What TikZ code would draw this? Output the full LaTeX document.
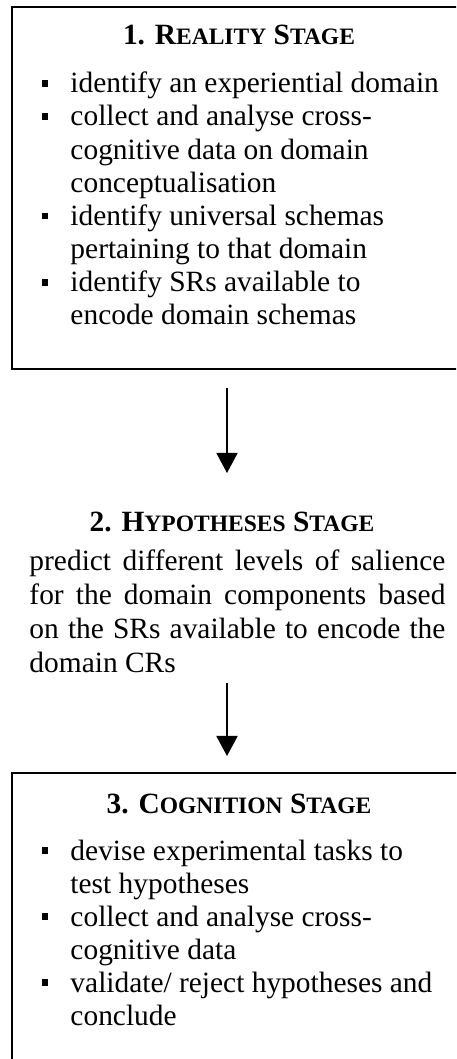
\documentclass[tikz,border=0pt]{standalone}
\usepackage{fontspec}
\setmainfont{Liberation Serif}
\usetikzlibrary{arrows.meta}
\newcommand\smcap[1]{{\fontsize{9.6pt}{11pt}\selectfont #1}}
\tikzset{
  stagebox/.style={draw, line width=0.8pt, inner sep=0pt},
  txtline/.style={anchor=base west, inner sep=0pt, font=\fontsize{12pt}{14pt}\selectfont},
  heading/.style={anchor=base, inner sep=0pt, font=\fontsize{12pt}{14pt}\selectfont\bfseries},
  bulletsq/.style={fill, inner sep=0pt, minimum size=2.6pt},
  flow/.style={-{Triangle[length=8.2pt,width=8.6pt]}, line width=0.8pt}
}
\begin{document}
\begin{tikzpicture}[x=0.408pt, y=-0.408pt]
  \useasboundingbox (0,0) rectangle (456,1059);
  \clip (0,0) rectangle (456,1059);
  % stage 1 box
  \node[stagebox, minimum width=185.2pt, minimum height=147.7pt] (reality) at (239,188) {};
  \node[heading] (realtitle) at (239,45) {1. R\smcap{EALITY} S\smcap{TAGE}};
  \node[bulletsq] (rb1) at (45,83.5) {};
  \node[txtline] (r1) at (70,93) {identify an experiential domain};
  \node[bulletsq] (rb2) at (45,116.5) {};
  \node[txtline] (r2) at (70,126) {collect and analyse cross-};
  \node[txtline] (r3) at (70,159.5) {cognitive data on domain};
  \node[txtline] (r4) at (70,192.5) {conceptualisation};
  \node[bulletsq] (rb3) at (45,216) {};
  \node[txtline] (r5) at (70,225.5) {identify universal schemas};
  \node[txtline] (r6) at (70,259) {pertaining to that domain};
  \node[bulletsq] (rb4) at (45,282.5) {};
  \node[txtline] (r7) at (70,292) {identify SRs available to};
  \node[txtline] (r8) at (70,325) {encode domain schemas};
  % arrow to stage 2
  \coordinate (a1top) at (227,388);
  \coordinate (a1tip) at (227,473);
  \draw[flow] (a1top) -- (a1tip);
  % stage 2 (no box)
  \node[heading] (hyptitle) at (232,531) {2. H\smcap{YPOTHESES} S\smcap{TAGE}};
  \node[txtline] (h1) at (29,570) {\makebox[169.7pt][s]{predict different levels of salience}};
  \node[txtline] (h2) at (29,604) {\makebox[169.7pt][s]{for the domain components based}};
  \node[txtline] (h3) at (29,638) {\makebox[169.7pt][s]{on the SRs available to encode the}};
  \node[txtline] (h4) at (29,672) {domain CRs};
  % arrow to stage 3
  \coordinate (a2top) at (227,683);
  \coordinate (a2tip) at (227,756);
  \draw[flow] (a2top) -- (a2tip);
  % stage 3 box
  \node[stagebox, minimum width=185.2pt, minimum height=125.3pt] (cognition) at (239,926.5) {};
  \node[heading] (cogtitle) at (239,813) {3. C\smcap{OGNITION} S\smcap{TAGE}};
  \node[bulletsq] (cb1) at (45,850.5) {};
  \node[txtline] (c1) at (70,860) {devise experimental tasks to};
  \node[txtline] (c2) at (70,893) {test hypotheses};
  \node[bulletsq] (cb2) at (45,916.5) {};
  \node[txtline] (c3) at (70,926) {collect and analyse cross-};
  \node[txtline] (c4) at (70,959) {cognitive data};
  \node[bulletsq] (cb3) at (45,982.5) {};
  \node[txtline] (c5) at (70,992) {validate/ reject hypotheses and};
  \node[txtline] (c6) at (70,1025) {conclude};
\end{tikzpicture}
\end{document}
